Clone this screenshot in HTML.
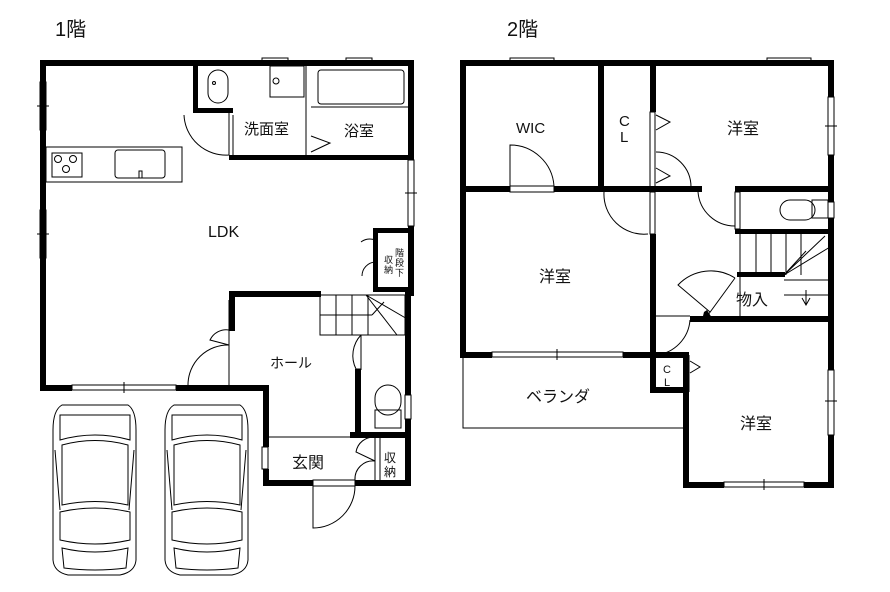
<!DOCTYPE html>
<html><head><meta charset="utf-8"><style>
html,body{margin:0;padding:0;background:#fff;}
svg{display:block;}
text{font-family:"Liberation Sans","Noto Sans CJK JP",sans-serif;fill:#111;}
</style></head><body>
<svg width="890" height="592" viewBox="0 0 890 592" xmlns="http://www.w3.org/2000/svg">
<g fill="#000">
<text x="55" y="36" font-size="20">1階</text>
<text x="507" y="36" font-size="20">2階</text>
</g>
<!-- ===== 1F ===== -->
<g fill="none" stroke="#000" stroke-width="1">
<rect x="46" y="147" width="136" height="35"/>
<rect x="52" y="153" width="30" height="24"/>
<circle cx="58" cy="159" r="3.5"/><circle cx="73" cy="159" r="3.5"/><circle cx="66" cy="169" r="3.5"/>
<rect x="115" y="150" width="50" height="28" rx="3"/>
<rect x="139" y="171" width="3" height="7"/>
<rect x="208" y="70" width="20" height="33" rx="10"/>
<circle cx="214" cy="83" r="1.5"/>
<rect x="270" y="66" width="34" height="31"/>
<circle cx="276" cy="81" r="3"/>
<rect x="318" y="70" width="86" height="34" rx="3"/>
<line x1="311" y1="107" x2="408" y2="107"/>
<path d="M229 113 L229 155 M229 155 A42 42 0 0 1 184 115"/>
<line x1="233" y1="115" x2="233" y2="155"/>
<path d="M311 136 L330 143 L311 152"/>
<line x1="306" y1="66" x2="306" y2="155"/>
<rect x="262" y="58" width="26" height="6"/>
<rect x="346" y="58" width="26" height="6"/>
<rect x="40" y="82" width="6" height="48"/><line x1="37" y1="106" x2="49" y2="106"/>
<rect x="40" y="210" width="6" height="48"/><line x1="37" y1="234" x2="49" y2="234"/>
<rect x="408" y="160" width="6" height="66"/><line x1="405" y1="193" x2="417" y2="193"/>
<rect x="72" y="385" width="104" height="5"/><line x1="124" y1="382" x2="124" y2="393"/>
<path d="M375 240 A14 14 0 0 0 361 242 M375 250 L375 230 M375 262 A14 14 0 0 0 362 276 M375 252 L375 272"/>
<rect x="320" y="295" width="85" height="40"/>
<line x1="320" y1="315" x2="372" y2="315"/>
<line x1="336" y1="295" x2="336" y2="335"/><line x1="352" y1="295" x2="352" y2="335"/><line x1="368" y1="295" x2="368" y2="335"/>
<path d="M366 295 L397 335 M366 295 L409 320 M372 315 L384 302"/>
<path d="M229 330 A18 18 0 0 0 210 340 L229 345"/>
<path d="M229 345 A40 40 0 0 0 188 385"/>
<line x1="229" y1="300" x2="229" y2="390"/>
<path d="M361 335 A30 30 0 0 0 356 369 L361 369"/>
<line x1="361" y1="335" x2="361" y2="370"/>
<rect x="375" y="385" width="26" height="30" rx="13"/>
<rect x="375" y="410" width="26" height="18"/>
<rect x="405" y="395" width="6" height="24"/>
<line x1="268" y1="437" x2="355" y2="437"/>
<rect x="262" y="447" width="6" height="22"/>
<path d="M375 437 A18 18 0 0 0 356 452 L375 461 A18 18 0 0 0 355 480"/>
<line x1="375" y1="437" x2="375" y2="480"/>
<line x1="380" y1="437" x2="380" y2="480"/>
<rect x="313" y="480" width="42" height="6"/>
<path d="M313 486 L313 528 A42 42 0 0 0 355 486"/>
</g>
<g fill="#000">
<rect x="40" y="60" width="374" height="6"/>
<rect x="40" y="60" width="6" height="331"/>
<rect x="193" y="60" width="5" height="53"/>
<rect x="193" y="108" width="40" height="5"/>
<rect x="229" y="155" width="185" height="5"/>
<rect x="408" y="60" width="6" height="100"/>
<rect x="373" y="228" width="41" height="5"/>
<rect x="373" y="228" width="5" height="64"/>
<rect x="408" y="226" width="6" height="70"/>
<rect x="373" y="287" width="41" height="5"/>
<rect x="229" y="291" width="92" height="6"/>
<rect x="229" y="291" width="6" height="40"/>
<rect x="40" y="385" width="32" height="6"/>
<rect x="176" y="385" width="92" height="6"/>
<rect x="263" y="385" width="6" height="62"/>
<rect x="263" y="469" width="6" height="17"/>
<rect x="263" y="480" width="50" height="6"/>
<rect x="355" y="480" width="56" height="6"/>
<rect x="405" y="290" width="6" height="105"/>
<rect x="405" y="419" width="6" height="67"/>
<rect x="355" y="369" width="6" height="68"/>
<rect x="350" y="432" width="60" height="6"/>
<text x="208" y="237" font-size="16">LDK</text>
<text x="244" y="134" font-size="15">洗面室</text>
<text x="344" y="136" font-size="15">浴室</text>
<text x="270" y="368" font-size="14">ホール</text>
<text x="292" y="468" font-size="16">玄関</text>
<text x="384" y="462" font-size="12">収</text><text x="384" y="476" font-size="12">納</text>
<text x="395" y="256" font-size="9">階</text><text x="395" y="266" font-size="9">段</text><text x="395" y="276" font-size="9">下</text>
<text x="384" y="263" font-size="9">収</text><text x="384" y="273" font-size="9">納</text>
</g>
<g fill="none" stroke="#000" stroke-width="1">
<g id="car">
<path d="M62 405 L128 405 Q136 410 136 430 L136 560 Q135 572 120 575 L68 575 Q54 572 53 560 L53 430 Q53 410 62 405 Z"/>
<path d="M60 415 L130 415 L130 440 Q95 430 60 440 Z"/>
<path d="M62 445 Q95 436 128 445 L128 505 Q95 498 62 505 Z"/>
<path d="M60 512 Q95 504 130 512 L130 540 Q95 548 60 540 Z"/>
<path d="M62 548 Q95 556 128 548 L126 568 Q95 572 64 568 Z"/>
<line x1="55" y1="450" x2="60" y2="510"/><line x1="134" y1="450" x2="129" y2="510"/>
</g>
<use href="#car" x="112"/>
</g>
<!-- ===== 2F ===== -->
<g fill="none" stroke="#000" stroke-width="1">
<rect x="510" y="58" width="44" height="6"/>
<rect x="767" y="58" width="44" height="6"/>
<rect x="828" y="97" width="6" height="58"/><line x1="825" y1="126" x2="837" y2="126"/>
<rect x="828" y="370" width="6" height="65"/><line x1="825" y1="401" x2="837" y2="401"/>
<rect x="492" y="352" width="131" height="5"/><line x1="557" y1="349" x2="557" y2="360"/>
<rect x="724" y="482" width="80" height="5"/><line x1="764" y1="479" x2="764" y2="490"/>
<path d="M510 186 L510 145 A44 44 0 0 1 554 186"/>
<rect x="510" y="186" width="44" height="6"/>
<rect x="650" y="112" width="5" height="80"/>
<path d="M656 115 L670 122 L656 130"/>
<path d="M656 168 L670 176 L656 183"/>
<path d="M656 152 A35 35 0 0 1 691 187"/>
<path d="M604 192 A40 40 0 0 0 648 234"/>
<rect x="650" y="192" width="5" height="42"/>
<path d="M698 192 A37 37 0 0 0 735 226"/>
<rect x="735" y="192" width="5" height="37"/>
<rect x="780" y="200" width="35" height="20" rx="10"/>
<rect x="812" y="200" width="16" height="18"/>
<rect x="828" y="202" width="6" height="16"/>
<rect x="740" y="232" width="90" height="85"/>
<line x1="740" y1="275" x2="784" y2="275"/>
<line x1="756" y1="232" x2="756" y2="275"/><line x1="771" y1="232" x2="771" y2="275"/><line x1="786" y1="232" x2="786" y2="275"/><line x1="801" y1="232" x2="801" y2="275"/>
<line x1="784" y1="280" x2="830" y2="280"/><line x1="784" y1="295" x2="830" y2="295"/>
<path d="M784 275 L825 236 M784 275 L830 247 M784 275 L806 251"/>
<path d="M806 290 L806 305 M802 298 L806 305 L810 298"/>
<path d="M735 278 L708 315 M735 278 A45 45 0 0 0 678 285 L710 312"/>
<path d="M690 320 A38 38 0 0 1 656 355"/>
<line x1="656" y1="316" x2="690" y2="316"/>
<path d="M690 361 L700 367 L690 373"/>
<line x1="689" y1="355" x2="689" y2="392"/>
<polyline points="463,357 463,428 683,428"/>
</g>
<g fill="#000">
<rect x="460" y="60" width="374" height="6"/>
<rect x="460" y="60" width="6" height="298"/>
<rect x="828" y="60" width="6" height="37"/>
<rect x="828" y="155" width="6" height="47"/>
<rect x="828" y="218" width="6" height="102"/>
<rect x="460" y="186" width="50" height="6"/>
<rect x="554" y="186" width="148" height="6"/>
<rect x="735" y="186" width="99" height="6"/>
<rect x="598" y="60" width="6" height="132"/>
<rect x="650" y="60" width="6" height="52"/>
<rect x="735" y="229" width="99" height="5"/>
<rect x="650" y="234" width="6" height="124"/>
<rect x="460" y="352" width="32" height="6"/>
<rect x="623" y="352" width="66" height="6"/>
<rect x="737" y="272" width="48" height="5"/>
<rect x="690" y="316" width="144" height="6"/>
<rect x="650" y="355" width="6" height="38"/>
<rect x="650" y="387" width="39" height="6"/>
<rect x="683" y="355" width="6" height="133"/>
<rect x="683" y="482" width="41" height="6"/>
<rect x="804" y="482" width="30" height="6"/>
<rect x="828" y="322" width="6" height="48"/>
<rect x="828" y="435" width="6" height="53"/>
<polygon points="707,310 712,318 702,320 704,312"/>
<text x="516" y="133" font-size="15">WIC</text>
<text x="619" y="126" font-size="15">C</text><text x="620" y="142" font-size="15">L</text>
<text x="727" y="134" font-size="16">洋室</text>
<text x="539" y="282" font-size="16">洋室</text>
<text x="736" y="305" font-size="16">物入</text>
<text x="663" y="373" font-size="11">C</text><text x="664" y="386" font-size="11">L</text>
<text x="526" y="402" font-size="16">ベランダ</text>
<text x="740" y="429" font-size="16">洋室</text>
</g>
</svg>
</body></html>
